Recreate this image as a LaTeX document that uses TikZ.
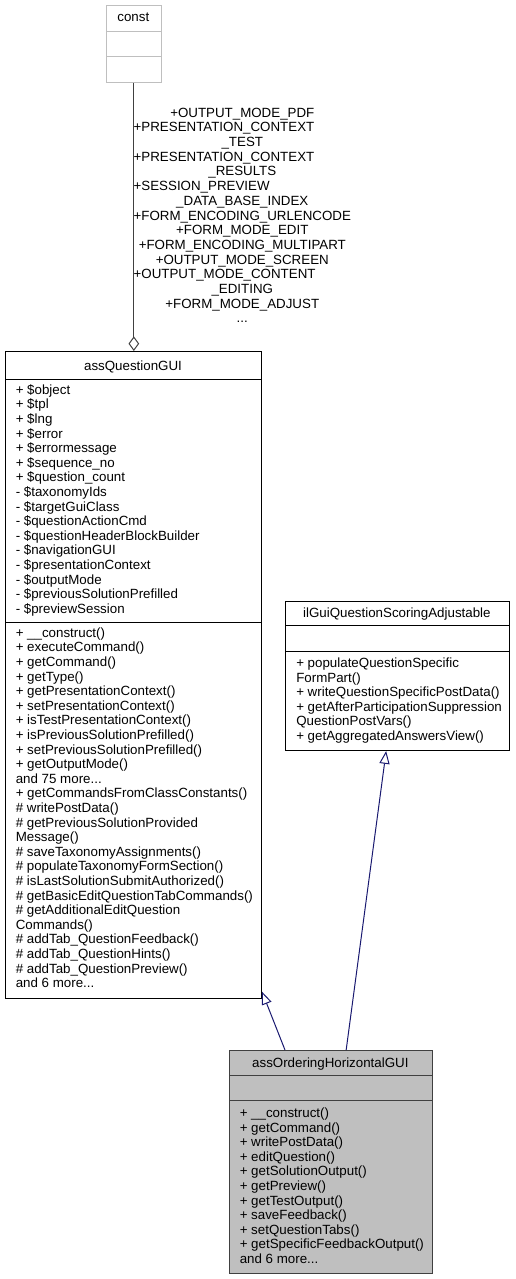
\documentclass[tikz,border=0pt]{standalone}
\usepackage{fontspec}
\setmainfont{Liberation Sans}
\usetikzlibrary{arrows.meta}
\definecolor{edgeblue}{HTML}{191970}
\definecolor{edgegray}{HTML}{404040}
\definecolor{framegray}{HTML}{BFBFBF}
\definecolor{fillgray}{HTML}{BFBFBF}

\begin{document}
\begin{tikzpicture}[x=0.75pt, y=-0.75pt,
    classbox/.style={draw, line width=0.75pt, inner sep=0pt, anchor=north west},
    member/.style={inner sep=0pt, anchor=base west, font=\fontsize{10}{12}\selectfont},
    classname/.style={inner sep=0pt, anchor=base, font=\fontsize{10}{12}\selectfont},
    inherit/.style={draw=edgeblue, line width=0.75pt, -{Triangle[open, length=9.6pt, width=7.6pt]}},
    aggregate/.style={draw=edgegray, line width=0.75pt, -{Diamond[open, length=11pt, width=8pt]}}]
  \useasboundingbox (0,0) rectangle (515,1279);

  % const
  \node[classbox, draw=framegray, minimum width=41pt, minimum height=57.3pt] (cst) at (106,5.3) {};
  \draw[framegray, line width=0.75pt] (106,31.7) -- (160.7,31.7) (106,56.7) -- (160.7,56.7);
  \node[classname] (cstname) at (133.35,21.4) {const};

  % assQuestionGUI
  \node[classbox, minimum width=192pt, minimum height=485.6pt] (qgui) at (5,351) {};
  \draw[line width=0.75pt] (5,379.5) -- (261,379.5) (5,622) -- (261,622);
  \node[classname] (qguiname) at (133,370.5) {assQuestionGUI};
  \foreach \t [count=\i from 0] in {+ \$object, + \$tpl, + \$lng, + \$error, + \$errormessage,
      + \$sequence\_no, + \$question\_count, - \$taxonomyIds, - \$targetGuiClass,
      - \$questionActionCmd, - \$questionHeaderBlockBuilder, - \$navigationGUI,
      - \$presentationContext, - \$outputMode, - \$previousSolutionPrefilled, - \$previewSession}
    \node[member] (qa\i) at (15.5,{394.2+14.6*\i}) {\t};
  \foreach \t [count=\i from 0] in {+ \_\_construct(), + executeCommand(), + getCommand(), + getType(),
      + getPresentationContext(), + setPresentationContext(), + isTestPresentationContext(),
      + isPreviousSolutionPrefilled(), + setPreviousSolutionPrefilled(), + getOutputMode(),
      and 75 more{...}, + getCommandsFromClassConstants(), \# writePostData(),
      \# getPreviousSolutionProvided, Message(), \# saveTaxonomyAssignments(),
      \# populateTaxonomyFormSection(), \# isLastSolutionSubmitAuthorized(),
      \# getBasicEditQuestionTabCommands(), \# getAdditionalEditQuestion, Commands(),
      \# addTab\_QuestionFeedback(), \# addTab\_QuestionHints(), \# addTab\_QuestionPreview(),
      and 6 more{...}}
    \node[member] (qm\i) at (15.5,{637.2+14.6*\i}) {\t};

  % ilGuiQuestionScoringAdjustable
  \node[classbox, minimum width=167.8pt, minimum height=111.75pt] (sc) at (285,601) {};
  \draw[line width=0.75pt] (285,625) -- (508.7,625) (285,651) -- (508.7,651);
  \node[classname] (scname) at (396.85,617.7) {ilGuiQuestionScoringAdjustable};
  \foreach \t [count=\i from 0] in {+ populateQuestionSpecific, FormPart(),
      + writeQuestionSpecificPostData(), + getAfterParticipationSuppression,
      QuestionPostVars(), + getAggregatedAnswersView()}
    \node[member] (sm\i) at (296,{667.4+14.6*\i}) {\t};

  % assOrderingHorizontalGUI
  \node[classbox, draw=edgegray, fill=fillgray, minimum width=152pt, minimum height=167pt] (ord) at (229,1050) {};
  \draw[edgegray, line width=0.75pt] (229,1075) -- (431.7,1075) (229,1100.7) -- (431.7,1100.7);
  \node[classname] (ordname) at (330.35,1067) {assOrderingHorizontalGUI};
  \foreach \t [count=\i from 0] in {+ \_\_construct(), + getCommand(), + writePostData(),
      + editQuestion(), + getSolutionOutput(), + getPreview(), + getTestOutput(),
      + saveFeedback(), + setQuestionTabs(), + getSpecificFeedbackOutput(), and 6 more{...}}
    \node[member] (om\i) at (239.5,{1117.4+14.6*\i}) {\t};

  % edges
  \draw[aggregate] (cst.south) -- (cst.south |- qgui.north);
  \foreach \i/\t in {0/+OUTPUT\_MODE\_PDF, 2/\_TEST, 4/\_RESULTS, 6/\_DATA\_BASE\_INDEX,
      7/+FORM\_ENCODING\_URLENCODE, 8/+FORM\_MODE\_EDIT, 9/+FORM\_ENCODING\_MULTIPART,
      10/+OUTPUT\_MODE\_SCREEN, 12/\_EDITING, 13/+FORM\_MODE\_ADJUST, 14/{...}}
    \node[classname] (lab\i) at (242.3,{117.1+14.7*\i}) {\t};
  \foreach \i/\t in {1/+PRESENTATION\_CONTEXT, 3/+PRESENTATION\_CONTEXT,
      5/+SESSION\_PREVIEW, 11/+OUTPUT\_MODE\_CONTENT}
    \node[member] (lab\i) at (133.4,{117.1+14.7*\i}) {\t};
  \draw[inherit] ([xshift=42pt]ord.north west) -- ([yshift=5.85pt]qgui.south east);
  \draw[inherit] ([xshift=11.5pt]ord.north) -- ([xshift=-8.4pt]sc.south);
\end{tikzpicture}
\end{document}
